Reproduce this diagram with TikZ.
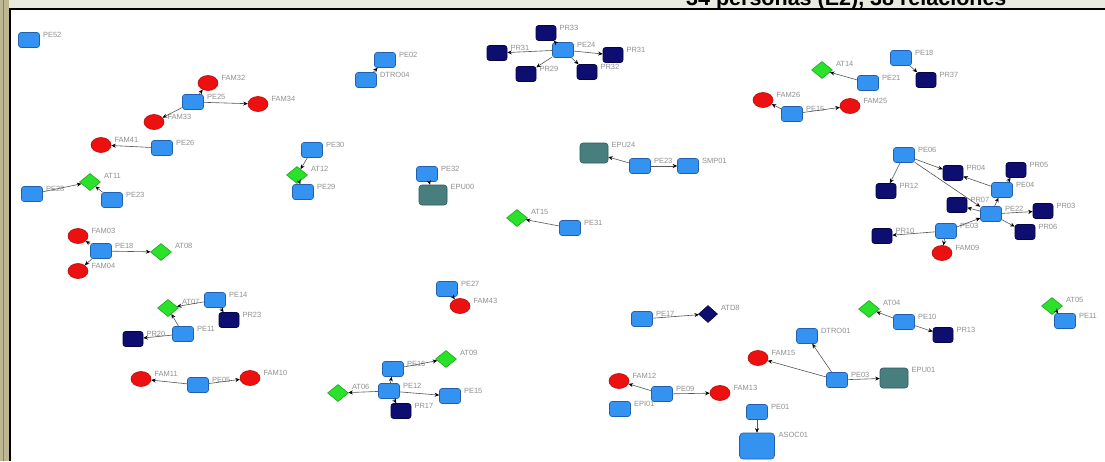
\documentclass[tikz,border=0pt]{standalone}
\usepackage{fontspec}
\setsansfont{Liberation Sans}
\usetikzlibrary{arrows.meta,shapes.geometric}
\definecolor{nblue}{RGB}{52,146,240}
\definecolor{nblueD}{RGB}{35,95,175}
\definecolor{navy}{RGB}{14,14,112}
\definecolor{navyD}{RGB}{5,5,70}
\definecolor{teal2}{RGB}{72,126,126}
\definecolor{teal2D}{RGB}{45,90,90}
\definecolor{nred}{RGB}{236,16,16}
\definecolor{nredD}{RGB}{185,10,10}
\definecolor{ngreen}{RGB}{42,226,42}
\definecolor{ngreenD}{RGB}{28,165,28}
\definecolor{khaki}{RGB}{190,184,146}
\definecolor{topbg}{RGB}{234,235,224}
\definecolor{lblc}{RGB}{145,145,145}
\definecolor{edgec}{RGB}{85,85,85}
\begin{document}
\begin{tikzpicture}[x=1pt,y=-1pt,
  lbl/.style={font=\sffamily\fontsize{7.5}{8}\selectfont, text=lblc, inner sep=0.5pt},
  base/.style={inner sep=0pt, line width=0.6pt},
  lb/.style={base, rectangle, rounded corners=2.5pt, minimum width=21pt, minimum height=15pt, fill=nblue, draw=nblueD,
     label={[lbl,anchor=west,label distance=2.5pt,yshift=5pt]0:#1}},
  nv/.style={base, rectangle, rounded corners=2.5pt, minimum width=20pt, minimum height=15pt, fill=navy, draw=navyD,
     label={[lbl,anchor=west,label distance=2.5pt,yshift=5pt]0:#1}},
  tl/.style={base, rectangle, rounded corners=3pt, minimum width=28pt, minimum height=20pt, fill=teal2, draw=teal2D,
     label={[lbl,anchor=west,label distance=2.5pt,yshift=8pt]0:#1}},
  big/.style={base, rectangle, rounded corners=3.5pt, minimum width=35pt, minimum height=26pt, fill=nblue, draw=nblueD,
     label={[lbl,anchor=west,label distance=3pt,yshift=11pt]0:#1}},
  rd/.style={base, ellipse, minimum width=20pt, minimum height=15pt, fill=nred, draw=nredD,
     label={[lbl,anchor=west,label distance=2.5pt,yshift=5pt]0:#1}},
  gr/.style={base, diamond, minimum width=21pt, minimum height=17pt, fill=ngreen, draw=ngreenD,
     label={[lbl,anchor=west,label distance=2.5pt,yshift=6pt]0:#1}},
  nd/.style={base, diamond, minimum width=19pt, minimum height=17pt, fill=navy, draw=navyD,
     label={[lbl,anchor=west,label distance=2.5pt,yshift=6pt]0:#1}},
  ed/.style={draw=edgec, line width=0.6pt, -{Stealth[length=4.5pt,width=4pt,color=black]}}
]
\useasboundingbox (0,0) rectangle (1105,461);
\fill[white] (0,0) rectangle (1105,461);
% slide frame
\fill[khaki] (0,0) rectangle (9,461);
\draw[khaki!70!black, line width=0.5pt] (3.5,0) -- (3.5,461);
\fill[topbg] (9,0) rectangle (1105,8);
\begin{scope}
\clip (9,0) rectangle (1105,7.5);
\node[anchor=base west, font=\sffamily\bfseries\fontsize{21.5}{22}\selectfont, inner sep=0pt] (title) at (686,5) {34 personas (E2), 38 relaciones};
\end{scope}
\fill[black] (8.5,7.5) rectangle (1105,10);
\fill[black] (8.5,7.5) rectangle (11,461);

% ---- nodes ----
\node[lb=PE52] (pe52) at (29,40) {};
\node[lb=PE25] (pe25) at (193,102) {};
\node[rd=FAM32] (fam32) at (208,83) {};
\node[rd=FAM34] (fam34) at (258,104) {};
\node[rd=FAM33] (fam33) at (154,122) {};
\node[lb=PE26] (pe26) at (162,148) {};
\node[rd=FAM41] (fam41) at (101,145) {};
\node[lb=PE02] (pe02) at (385,60) {};
\node[lb=DTRO04] (dtro04) at (366,80) {};
\node[lb=PE30] (pe30) at (312,150) {};
\node[gr=AT12] (at12) at (297,175) {};
\node[lb=PE29] (pe29) at (303,192) {};
\node[lb=PE24] (pe24) at (563,50) {};
\node[nv=PR33] (pr33) at (546,33) {};
\node[nv=PR31] (pr31r) at (613,55) {};
\node[nv=PR32] (pr32) at (587,72) {};
\node[nv=PR29] (pr29) at (526,74) {};
\node[nv=PR31] (pr31l) at (497,53) {};
\node[gr=AT14] (at14) at (822,70) {};
\node[lb=PE21] (pe21) at (868,83) {};
\node[lb=PE18] (pe18) at (901,58) {};
\node[nv=PR37] (pr37) at (926,80) {};
\node[rd=FAM25] (fam25) at (850,106) {};
\node[lb=PE15] (pe15) at (792,114) {};
\node[rd=FAM26] (fam26) at (763,100) {};
\node[tl=EPU24] (epu24) at (594,153) {};
\node[lb=PE23] (pe23) at (640,166) {};
\node[lb=SMP01] (smp01) at (688,166) {};
\node[gr=AT15] (at15) at (517,218) {};
\node[lb=PE31] (pe31) at (570,228) {};
\node[lb=PE32] (pe32) at (427,174) {};
\node[tl=EPU00] (epu00) at (433,195) {};
\node[lb=PE27] (pe27) at (447,289) {};
\node[rd=FAM43] (fam43) at (460,306) {};
\node[lb=PE28] (pe28) at (32,194) {};
\node[gr=AT11] (at11) at (90,182) {};
\node[lb=PE23] (pe23b) at (112,200) {};
\node[lb=PE18] (pe18b) at (101,251) {};
\node[rd=FAM03] (fam03) at (78,236) {};
\node[rd=FAM04] (fam04) at (78,271) {};
\node[gr=AT08] (at08) at (161,252) {};
\node[lb=PE14] (pe14) at (215,300) {};
\node[nv=PR23] (pr23) at (229,320) {};
\node[gr=AT07] (at07) at (168,308) {};
\node[lb=PE11] (pe11) at (183,334) {};
\node[nv=PR20] (pr20) at (133,339) {};
\node[lb=PE05] (pe05) at (198,385) {};
\node[rd=FAM11] (fam11) at (141,379) {};
\node[rd=FAM10] (fam10) at (250,378) {};
\node[lb=PE12] (pe12) at (389,391) {};
\node[lb=PE16] (pe16) at (393,369) {};
\node[gr=AT09] (at09) at (446,359) {};
\node[gr=AT06] (at06) at (338,393) {};
\node[lb=PE15] (pe15b) at (450,396) {};
\node[nv=PR17] (pr17) at (401,411) {};
\node[lb=PE17] (pe17) at (642,319) {};
\node[nd=ATD8] (atd8) at (708,314) {};
\node[lb=PE09] (pe09) at (662,394) {};
\node[rd=FAM12] (fam12) at (619,381) {};
\node[rd=FAM13] (fam13) at (720,393) {};
\node[lb=EPI01] (epi01) at (620,409) {};
\node[lb=PE01] (pe01) at (757,412) {};
\node[big=ASOC01] (asoc01) at (757,446) {};
\node[lb=PE03] (pe03) at (837,380) {};
\node[tl=EPU01] (epu01) at (894,378) {};
\node[lb=DTRO01] (dtro01) at (807,336) {};
\node[rd=FAM15] (fam15) at (758,358) {};
\node[gr=AT04] (at04) at (869,309) {};
\node[lb=PE10] (pe10) at (904,322) {};
\node[nv=PR13] (pr13) at (943,335) {};
\node[gr=AT05] (at05) at (1052,306) {};
\node[lb=PE11] (pe11b) at (1065,321) {};
\node[lb=PE06] (pe06) at (904,155) {};
\node[nv=PR04] (pr04) at (953,173) {};
\node[nv=PR05] (pr05) at (1016,170) {};
\node[lb=PE04] (pe04) at (1002,190) {};
\node[nv=PR12] (pr12) at (886,191) {};
\node[nv=PR07] (pr07) at (957,205) {};
\node[lb=PE22] (pe22) at (991,214) {};
\node[nv=PR03] (pr03) at (1043,211) {};
\node[nv=PR06] (pr06) at (1025,232) {};
\node[lb=PE03] (pe03b) at (946,231) {};
\node[nv=PR10] (pr10) at (882,236) {};
\node[rd=FAM09] (fam09) at (942,253) {};

% ---- edges ----
\draw[ed] (pe25) -- (fam32);
\draw[ed] (pe25) -- (fam34);
\draw[ed] (pe25) -- (fam33);
\draw[ed] (pe26) -- (fam41);
\draw[ed] (dtro04) -- (pe02);
\draw[ed] (pe30) -- (at12);
\draw[ed] (at12) -- (pe29);
\draw[ed] (pe24) -- (pr31r);
\draw[ed] (pe24) -- (pr32);
\draw[ed] (pe24) -- (pr31l);
\draw[ed] (pe24) -- (pr33);
\draw[ed] (pe24) -- (pr29);
\draw[ed] (pe21) -- (at14);
\draw[ed] (pe18) -- (pr37);
\draw[ed] (pe15) -- (fam26);
\draw[ed] (pe15) -- (fam25);
\draw[ed] (pe23) -- (epu24);
\draw[ed] (pe23) -- (smp01);
\draw[ed] (pe31) -- (at15);
\draw[ed] (pe32) -- (epu00);
\draw[ed] (pe27) -- (fam43);
\draw[ed] (pe28) -- (at11);
\draw[ed] (pe23b) -- (at11);
\draw[ed] (pe18b) -- (fam03);
\draw[ed] (pe18b) -- (fam04);
\draw[ed] (pe18b) -- (at08);
\draw[ed] (pe14) -- (pr23);
\draw[ed] (pe14) -- (at07);
\draw[ed] (pe11) -- (at07);
\draw[ed] (pe11) -- (pr20);
\draw[ed] (pe05) -- (fam11);
\draw[ed] (pe05) -- (fam10);
\draw[ed] (pe12) -- (pe16);
\draw[ed] (pe12) -- (at06);
\draw[ed] (pe12) -- (pe15b);
\draw[ed] (pe12) -- (pr17);
\draw[ed] (pe16) -- (at09);
\draw[ed] (pe17) -- (atd8);
\draw[ed] (pe09) -- (fam12);
\draw[ed] (pe09) -- (fam13);
\draw[ed] (pe01) -- (asoc01);
\draw[ed] (pe03) -- (epu01);
\draw[ed] (pe03) -- (dtro01);
\draw[ed] (pe03) -- (fam15);
\draw[ed] (pe10) -- (at04);
\draw[ed] (pe10) -- (pr13);
\draw[ed] (at05) -- (pe11b);
\draw[ed] (pe06) -- (pr12);
\draw[ed] (pe06) -- (pr04);
\draw[ed] (pe06) -- (pe22);
\draw[ed] (pe04) -- (pr04);
\draw[ed] (pe04) -- (pr05);
\draw[ed] (pe22) -- (pe04);
\draw[ed] (pe22) -- (pr07);
\draw[ed] (pe22) -- (pr03);
\draw[ed] (pe22) -- (pr06);
\draw[ed] (pe03b) -- (pe22);
\draw[ed] (pe03b) -- (pr10);
\draw[ed] (pe03b) -- (fam09);
\end{tikzpicture}
\end{document}
